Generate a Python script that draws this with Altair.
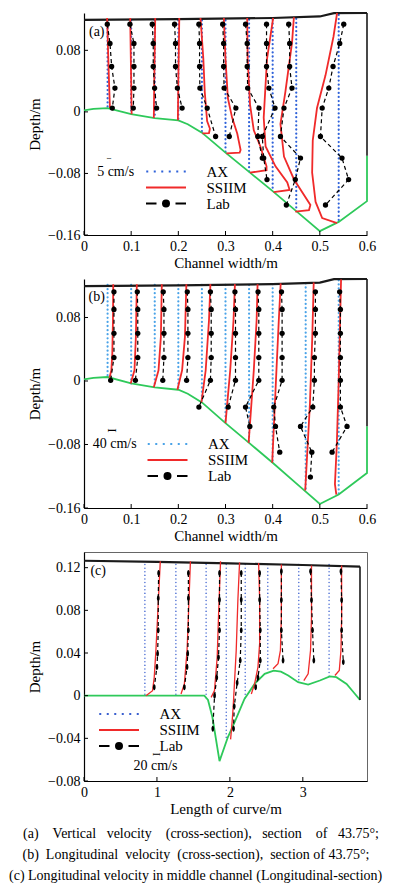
import altair as alt
import pandas as pd

FONT = "Liberation Serif"
RED = "#f02a2a"
GREEN = "#2ec95a"
SERIES = ["AX", "SSIIM", "Lab"]

# ---------------- Panel (a): vertical velocity ----------------
A_STATIONS = [0.05, 0.10, 0.15, 0.20, 0.25, 0.30, 0.35, 0.40, 0.45, 0.54]
A_AX_TOP = [0.119, 0.119, 0.119, 0.119, 0.119, 0.119, 0.120, 0.120, 0.121, 0.126]
A_AX_BOTTOM = [0.005, -0.003, -0.008, -0.011, -0.027, -0.053, -0.078, -0.103, -0.129, -0.142]
BED_X = [0, 0.02, 0.05, 0.10, 0.15, 0.20, 0.22, 0.25, 0.30, 0.35, 0.40, 0.45, 0.50, 0.54, 0.60, 0.60]
BED_Y = [0.002, 0.004, 0.005, -0.003, -0.008, -0.011, -0.016, -0.027, -0.053, -0.078, -0.103, -0.129, -0.155, -0.143, -0.116, -0.057]
SURF_X = [0, 0.2, 0.4, 0.5, 0.53, 0.6]
SURF_Y = [0.1195, 0.1205, 0.122, 0.124, 0.1283, 0.1285]
WALL_X = [0.6, 0.6]
WALL_Y = [-0.057, 0.1285]
A_SSIIM_X = [
    [0.049, 0.051, 0.053, 0.055],
    [0.098, 0.099, 0.100, 0.101],
    [0.151, 0.150, 0.149, 0.148],
    [0.202, 0.201, 0.200, 0.199],
    [0.247, 0.253, 0.256, 0.261, 0.267, 0.265, 0.251],
    [0.2965, 0.300, 0.305, 0.314, 0.325, 0.332, 0.330, 0.302],
    [0.346, 0.347, 0.352, 0.360, 0.374, 0.387, 0.387, 0.352],
    [0.401, 0.388, 0.381, 0.385, 0.406, 0.431, 0.436, 0.402],
    [0.445, 0.441, 0.427, 0.4165, 0.424, 0.445, 0.480, 0.477, 0.448],
    [0.5366, 0.529, 0.512, 0.494, 0.485, 0.4837, 0.491, 0.505, 0.5366],
]
A_SSIIM_Y = [
    [0.122, 0.08, 0.04, 0.005],
    [0.122, 0.08, 0.04, -0.003],
    [0.122, 0.08, 0.04, -0.008],
    [0.122, 0.08, 0.04, -0.011],
    [0.122, 0.069, 0.026, -0.012, -0.022, -0.0275, -0.028],
    [0.122, 0.069, 0.018, -0.0074, -0.0285, -0.0496, -0.053, -0.054],
    [0.122, 0.0686, 0.0095, -0.024, -0.045, -0.0707, -0.0757, -0.079],
    [0.122, 0.0686, -0.0074, -0.045, -0.0707, -0.0918, -0.1015, -0.1044],
    [0.123, 0.0897, 0.0264, -0.0158, -0.058, -0.0875, -0.121, -0.1276, -0.1297],
    [0.1285, 0.098, 0.0475, 0.005, -0.0369, -0.079, -0.117, -0.138, -0.1445],
]
A_LAB_DEPTH = [0.114, 0.089, 0.059, 0.031, 0.005, -0.032, -0.060, -0.088, -0.121]
A_LAB_X = [
    [0.0494, 0.0551, 0.0586, 0.0656, 0.0600],
    [0.0974, 0.1059, 0.1059, 0.1059, 0.1045],
    [0.1447, 0.1468, 0.1468, 0.1497, 0.1539],
    [0.192, 0.194, 0.194, 0.198, 0.208],
    [0.2436, 0.245, 0.245, 0.2457, 0.2612, 0.279],
    [0.294, 0.296, 0.296, 0.297, 0.322, 0.308],
    [0.3425, 0.346, 0.346, 0.347, 0.371, 0.3685, 0.378],
    [0.387, 0.387, 0.387, 0.392, 0.405, 0.378, 0.381, 0.388],
    [0.434, 0.436, 0.436, 0.441, 0.424, 0.4165, 0.459, 0.448, 0.429],
    [0.5507, 0.5422, 0.528, 0.519, 0.505, 0.5013, 0.547, 0.561, 0.512],
]

# ---------------- Panel (b): longitudinal velocity ----------------
B_STATIONS = [0.05, 0.10, 0.15, 0.20, 0.25, 0.30, 0.35, 0.40, 0.47, 0.54]
B_AX_TOP = [0.121, 0.121, 0.121, 0.121, 0.121, 0.121, 0.121, 0.122, 0.123, 0.127]
B_AX_BOTTOM = [0.005, -0.003, -0.008, -0.011, -0.027, -0.053, -0.078, -0.103, -0.139, -0.144]
B_SSIIM_X = [
    [0.054, 0.058, 0.060, 0.0614, 0.062],
    [0.099, 0.107, 0.110, 0.112],
    [0.148, 0.158, 0.163, 0.165],
    [0.198, 0.208, 0.214, 0.217],
    [0.249, 0.258, 0.265, 0.268],
    [0.300, 0.310, 0.317, 0.320],
    [0.349, 0.360, 0.366, 0.368],
    [0.399, 0.408, 0.413, 0.417],
    [0.469, 0.479, 0.484, 0.487],
    [0.535, 0.532, 0.536, 0.540, 0.545],
]
B_SSIIM_Y = [
    [0.004, 0.0135, 0.0345, 0.0766, 0.122],
    [-0.003, 0.0135, 0.0556, 0.122],
    [-0.008, 0.0135, 0.0556, 0.122],
    [-0.011, 0.0135, 0.0556, 0.122],
    [-0.027, 0.0135, 0.0766, 0.122],
    [-0.053, 0.0135, 0.0766, 0.122],
    [-0.078, 0.0135, 0.0766, 0.122],
    [-0.103, 0.0135, 0.0766, 0.123],
    [-0.138, -0.0286, 0.0556, 0.124],
    [-0.143, -0.130, -0.080, 0.000, 0.128],
]
B_LAB_DEPTH = [0.1124, 0.0901, 0.060, 0.0295, 0.0009, -0.0328, -0.0572, -0.0897, -0.121]
B_LAB_X = [
    [0.0635, 0.0635, 0.0635, 0.0635, 0.0565],
    [0.113, 0.114, 0.114, 0.114, 0.109],
    [0.168, 0.1695, 0.1695, 0.1695, 0.167],
    [0.219, 0.2203, 0.2203, 0.2203, 0.2175],
    [0.268, 0.2697, 0.2697, 0.2697, 0.268, 0.2436],
    [0.320, 0.3212, 0.3212, 0.3212, 0.3212, 0.3057],
    [0.369, 0.3706, 0.3706, 0.3706, 0.3706, 0.3424, 0.3516],
    [0.4187, 0.420, 0.420, 0.420, 0.420, 0.4024, 0.406, 0.415],
    [0.4906, 0.4906, 0.4906, 0.4885, 0.4885, 0.485, 0.459, 0.483, 0.480],
    [0.542, 0.5436, 0.5436, 0.5436, 0.5436, 0.5436, 0.5577, 0.526],
]

# ---------------- Panel (c): middle channel, longitudinal section ----------------
C_STATIONS = [0.835, 1.26, 1.674, 1.95, 2.21, 2.52, 2.945, 3.36]
C_AX_TOP = [0.123, 0.123, 0.123, 0.123, 0.123, 0.123, 0.123, 0.123]
C_AX_BOTTOM = [0.0, 0.0, -0.002, -0.041, -0.002, 0.023, 0.0125, 0.018]
C_BED_X = [0, 0.5, 1.0, 1.5, 1.65, 1.70, 1.76, 1.858, 1.972, 2.064, 2.2, 2.339, 2.477, 2.60, 2.70,
           2.80, 2.936, 3.073, 3.234, 3.37, 3.46, 3.60, 3.716, 3.784]
C_BED_Y = [0, 0, 0, 0, 0, -0.004, -0.02, -0.0614, -0.039, -0.025, -0.003, 0.011, 0.0205, 0.0235,
           0.0225, 0.019, 0.0126, 0.0104, 0.0142, 0.018, 0.0173, 0.011, 0.0016, -0.004]
C_SURF_X = [0, 1.0, 2.0, 3.0, 3.784]
C_SURF_Y = [0.1265, 0.1255, 0.124, 0.1225, 0.121]
C_WALL_X = [3.784, 3.784]
C_WALL_Y = [-0.004, 0.121]
C_SSIIM_X = [
    [0.849, 0.94, 0.963, 0.986, 1.009, 1.046],
    [1.33, 1.376, 1.413, 1.431, 1.459],
    [1.743, 1.789, 1.826, 1.844, 1.872],
    [2.01, 2.03, 2.045, 2.087, 2.11, 2.133],
    [2.294, 2.339, 2.385, 2.408, 2.408, 2.394],
    [2.592, 2.66, 2.693, 2.706, 2.706],
    [3.014, 3.073, 3.106, 3.119, 3.119],
    [3.44, 3.50, 3.523, 3.532, 3.532],
]
C_SSIIM_Y = [
    [0.0, 0.0047, 0.0173, 0.0425, 0.074, 0.126],
    [0.0016, 0.011, 0.0425, 0.074, 0.126],
    [-0.0016, 0.0047, 0.036, 0.074, 0.126],
    [-0.041, -0.025, -0.011, 0.0425, 0.09, 0.125],
    [0.0016, 0.011, 0.0268, 0.0488, 0.09, 0.1244],
    [0.0252, 0.030, 0.0425, 0.074, 0.123],
    [0.0142, 0.0205, 0.0425, 0.074, 0.122],
    [0.0189, 0.0236, 0.0425, 0.074, 0.122],
]
C_LAB_X = [
    [1.023, 1.018, 1.018, 1.009, 1.000, 0.963],
    [1.431, 1.431, 1.431, 1.422, 1.413, 1.376],
    [1.858, 1.858, 1.858, 1.844, 1.820, 1.790, 1.766],
    [2.156, 2.156, 2.156, 2.142, 2.100, 2.060, 2.050],
    [2.408, 2.408, 2.417, 2.417, 2.385, 2.353],
    [2.706, 2.706, 2.706, 2.729],
    [3.106, 3.119, 3.133, 3.151],
    [3.523, 3.532, 3.532, 3.555],
]
C_LAB_Y = [
    [0.115, 0.0914, 0.0614, 0.0394, 0.0268, 0.0079],
    [0.115, 0.0914, 0.0614, 0.0394, 0.0268, 0.0079],
    [0.115, 0.090, 0.0614, 0.036, 0.017, 0.0, -0.031],
    [0.115, 0.090, 0.0614, 0.033, 0.012, -0.010, -0.031],
    [0.115, 0.090, 0.0614, 0.033, 0.017, 0.0079],
    [0.1166, 0.0898, 0.0614, 0.033],
    [0.1166, 0.0898, 0.0614, 0.033],
    [0.1166, 0.0898, 0.0614, 0.0315],
]

NB = "\u00a0"
CAPTIONS = [
    "(a)" + NB * 4 + "Vertical" + NB * 3 + "velocity" + NB * 4 + "(cross-section)," + NB * 3
    + "section" + NB * 4 + "of" + NB * 3 + "43.75°;",
    "(b)" + NB * 2 + "Longitudinal" + NB * 2 + "velocity" + NB * 2 + "(cross-section)," + NB * 2
    + "section" + NB + "of" + NB + "43.75°;",
    "(c) Longitudinal velocity in middle channel (Longitudinal-section)",
]

AX_PATH = ("M-3.95,0L-3.55,0M-2.45,0L-2.05,0M-0.95,0L-0.55,0M0.55,0L0.95,0"
           "M2.05,0L2.45,0M3.55,0L3.95,0")
SS_PATH = "M-4,0L4,0"
LAB_PATH = "M-4,0L-1.9,0M-0.6,0A0.6,0.6,0,1,1,0.6,0A0.6,0.6,0,1,1,-0.6,0ZM1.9,0L4,0"
ELLIPSE = "M0,-1A0.45,1,0,1,1,0,1A0.45,1,0,1,1,0,-1Z"


def long_df(xs_list, ys_list):
    rows = []
    for k, (xs, ys) in enumerate(zip(xs_list, ys_list)):
        for i, (x, y) in enumerate(zip(xs, ys)):
            rows.append({"x": x, "y": y, "st": k, "i": i})
    return pd.DataFrame(rows)


def path_df(xs, ys):
    return pd.DataFrame({"x": xs, "y": ys, "i": list(range(len(xs)))})


def panel(cfg):
    W, H = cfg["W"], cfg["H"]
    xs = alt.Scale(domain=cfg["xdom"], nice=False, zero=False)
    ys = alt.Scale(domain=cfg["ydom"], nice=False, zero=False)
    common = dict(grid=False, ticks=False, tickSize=0, labelFont=FONT, labelFontSize=14,
                  titleFont=FONT, titleFontSize=15, titleFontWeight="normal",
                  labelColor="black", titleColor="black", domainColor="black",
                  domainWidth=1.2, labelFlush=False, labelOverlap=False, format=".2~f")
    xaxis = alt.Axis(values=cfg["xticks"], title=cfg["xtitle"], labelPadding=4,
                     titlePadding=2, **common)
    yaxis = alt.Axis(values=cfg["yticks"], title="Depth/m", labelPadding=4,
                     titlePadding=5, **common)

    def X(f):
        return alt.X(f, type="quantitative", scale=xs, axis=xaxis)

    def Y(f):
        return alt.Y(f, type="quantitative", scale=ys, axis=yaxis)

    layers = []
    ax_df = pd.DataFrame({"x": cfg["stations"], "top": cfg["ax_top"], "bot": cfg["ax_bot"]})
    layers.append(alt.Chart(ax_df).mark_rule(
        color=cfg["blue"], strokeWidth=cfg["ax_w"], strokeDash=[0.1, cfg["ax_gap"]],
        strokeCap="round").encode(x=X("x"), y=Y("top"), y2=alt.Y2("bot")))
    layers.append(alt.Chart(path_df(cfg["bed_x"], cfg["bed_y"])).mark_line(
        color=GREEN, strokeWidth=1.8).encode(x=X("x"), y=Y("y"), order="i:Q"))
    layers.append(alt.Chart(path_df(cfg["surf_x"], cfg["surf_y"])).mark_line(
        color="#1a1a1a", strokeWidth=2.2).encode(x=X("x"), y=Y("y"), order="i:Q"))
    layers.append(alt.Chart(path_df(cfg["wall_x"], cfg["wall_y"])).mark_line(
        color="#1a1a1a", strokeWidth=1.6).encode(x=X("x"), y=Y("y"), order="i:Q"))
    layers.append(alt.Chart(long_df(cfg["ss_x"], cfg["ss_y"])).mark_line(
        color=RED, strokeWidth=cfg["red_w"]).encode(
        x=X("x"), y=Y("y"), detail="st:N", order="i:Q"))
    lab = long_df(cfg["lab_x"], cfg["lab_y"])
    layers.append(alt.Chart(lab).mark_line(
        color="black", strokeWidth=1.2, strokeDash=[4, 3]).encode(
        x=X("x"), y=Y("y"), detail="st:N", order="i:Q"))
    if cfg.get("ellipse"):
        layers.append(alt.Chart(lab).mark_point(
            shape=ELLIPSE, filled=True, color="black", size=cfg["dot"], opacity=1).encode(
            x=X("x"), y=Y("y")))
    else:
        layers.append(alt.Chart(lab).mark_circle(color="black", size=cfg["dot"], opacity=1).encode(
            x=X("x"), y=Y("y")))

    # inward ticks
    layers.append(alt.Chart(pd.DataFrame({"v": cfg["yticks"]})).mark_rule(
        color="black", strokeWidth=1).encode(y=Y("v"), x=alt.value(0), x2=alt.value(4)))
    layers.append(alt.Chart(pd.DataFrame({"v": cfg["xticks"]})).mark_rule(
        color="black", strokeWidth=1).encode(x=X("v"), y=alt.value(H), y2=alt.value(H - 4)))

    # annotations
    layers.append(alt.Chart(pd.DataFrame({"t": [cfg["letter"]], "x": [cfg["letter_xy"][0]],
                                          "y": [cfg["letter_xy"][1]]})).mark_text(
        font=FONT, fontSize=14, color="black").encode(x=X("x"), y=Y("y"), text="t:N"))
    layers.append(alt.Chart(pd.DataFrame({"t": [cfg["scale_txt"]], "x": [cfg["scale_xy"][0]],
                                          "y": [cfg["scale_xy"][1]]})).mark_text(
        font=FONT, fontSize=14, color="black").encode(x=X("x"), y=Y("y"), text="t:N"))
    layers.append(alt.Chart(pd.DataFrame({"t": ["I"], "x": [cfg["marker_xy"][0]],
                                          "y": [cfg["marker_xy"][1]]})).mark_text(
        font=FONT, fontSize=cfg["marker_size"], angle=90, color="black").encode(
        x=X("x"), y=Y("y"), text="t:N"))

    # legend
    leg = alt.Legend(title=None, orient="none", legendX=cfg["leg_xy"][0], legendY=cfg["leg_xy"][1],
                     direction="vertical", symbolSize=100, symbolStrokeWidth=2,
                     symbolOffset=12.5, labelOffset=33, labelFont=FONT, labelFontSize=15,
                     labelColor="black", rowPadding=0, padding=0, symbolOpacity=1)
    cols = [cfg["blue"], RED, "black"]
    layers.append(alt.Chart(pd.DataFrame({"series": SERIES})).mark_point(
        filled=True, opacity=0, strokeWidth=2, size=100).encode(
        fill=alt.Fill("series:N", scale=alt.Scale(domain=SERIES, range=cols), legend=leg),
        stroke=alt.Stroke("series:N", scale=alt.Scale(domain=SERIES, range=cols), legend=leg),
        shape=alt.Shape("series:N", scale=alt.Scale(domain=SERIES,
                                                    range=[AX_PATH, SS_PATH, LAB_PATH]),
                        legend=leg)))

    if cfg.get("captions"):
        for k, (txt, px, py, al) in enumerate(cfg["captions"]):
            layers.append(alt.Chart(pd.DataFrame({"t": [txt]})).mark_text(
                font=FONT, fontSize=14, color="black", align=al, baseline="middle").encode(
                text="t:N", x=alt.value(px), y=alt.value(py)))

    props = dict(width=W, height=H)
    if cfg.get("frame"):
        props["view"] = alt.ViewBackground(stroke="#666666", strokeWidth=1)
    return alt.layer(*layers).properties(**props)


W = 283
pa = panel(dict(
    W=W, H=222, xdom=[0, 0.6], ydom=[-0.16, 0.1285], xticks=[0, 0.1, 0.2, 0.3, 0.4, 0.5, 0.6],
    yticks=[-0.16, -0.08, 0, 0.08], xtitle="Channel width/m",
    stations=A_STATIONS, ax_top=A_AX_TOP, ax_bot=A_AX_BOTTOM, blue="#2f62d9", ax_w=2.2, ax_gap=4,
    bed_x=BED_X, bed_y=BED_Y, surf_x=SURF_X, surf_y=SURF_Y, wall_x=WALL_X, wall_y=WALL_Y,
    ss_x=A_SSIIM_X, ss_y=A_SSIIM_Y, red_w=1.8,
    lab_x=A_LAB_X, lab_y=[A_LAB_DEPTH[:len(v)] for v in A_LAB_X], dot=28,
    letter="(a)", letter_xy=(0.027, 0.104), scale_txt="5 cm/s", scale_xy=(0.067, -0.078),
    marker_xy=(0.0525, -0.0605), marker_size=6, leg_xy=(62, 151)))

pb = panel(dict(
    W=W, H=229, xdom=[0, 0.6], ydom=[-0.16, 0.1285], xticks=[0, 0.1, 0.2, 0.3, 0.4, 0.5, 0.6],
    yticks=[-0.16, -0.08, 0, 0.08], xtitle="Channel width/m",
    stations=B_STATIONS, ax_top=B_AX_TOP, ax_bot=B_AX_BOTTOM, blue="#4aa3e8", ax_w=2.2, ax_gap=4,
    bed_x=BED_X, bed_y=BED_Y, surf_x=SURF_X, surf_y=SURF_Y, wall_x=WALL_X, wall_y=WALL_Y,
    ss_x=B_SSIIM_X, ss_y=B_SSIIM_Y, red_w=1.8,
    lab_x=B_LAB_X, lab_y=[B_LAB_DEPTH[:len(v)] for v in B_LAB_X], dot=28,
    letter="(b)", letter_xy=(0.027, 0.106), scale_txt="40 cm/s", scale_xy=(0.065, -0.080),
    marker_xy=(0.060, -0.0623), marker_size=13, leg_xy=(63.5, 157.5)))

pc = panel(dict(
    W=W, H=229, xdom=[0, 3.88], ydom=[-0.08, 0.1347], xticks=[0, 1, 2, 3],
    yticks=[-0.08, -0.04, 0, 0.04, 0.08, 0.12], xtitle="Length of curve/m",
    stations=C_STATIONS, ax_top=C_AX_TOP, ax_bot=C_AX_BOTTOM, blue="#3a5fcf", ax_w=1.4, ax_gap=3.5,
    bed_x=C_BED_X, bed_y=C_BED_Y, surf_x=C_SURF_X, surf_y=C_SURF_Y, wall_x=C_WALL_X, wall_y=C_WALL_Y,
    ss_x=C_SSIIM_X, ss_y=C_SSIIM_Y, red_w=1.3,
    lab_x=C_LAB_X, lab_y=C_LAB_Y, dot=36, ellipse=True,
    letter="(c)", letter_xy=(0.195, 0.1166), scale_txt="20 cm/s", scale_xy=(0.98, -0.066),
    marker_xy=(0.986, -0.055), marker_size=11, leg_xy=(15, 154.5), frame=True,
    captions=[(CAPTIONS[0], 117, 282, "center"), (CAPTIONS[1], 112, 303, "center"),
              (CAPTIONS[2], -75, 324, "left")]))

chart = alt.vconcat(pa, pb, pc, spacing=44, bounds="flush").properties(
    padding={"left": 0, "right": 0, "top": 0, "bottom": 0}
).resolve_scale(
    x="independent", y="independent", fill="independent", stroke="independent", shape="independent"
).resolve_legend(
    fill="independent", stroke="independent", shape="independent"
).configure_view(stroke=None)

chart.save("out.html", embed_options={"renderer": "svg", "actions": False})
